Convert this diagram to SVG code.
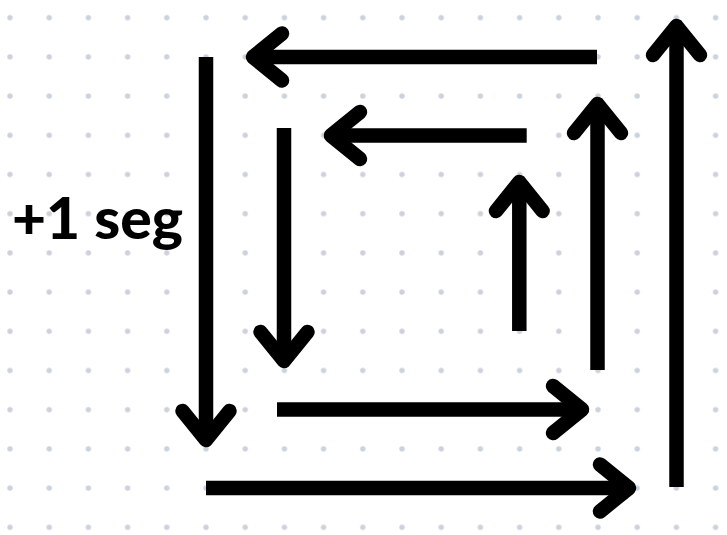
<svg xmlns="http://www.w3.org/2000/svg" width="727" height="535" viewBox="0 0 727 535">
  <style>
    .shaft { stroke: #000; stroke-width: 14.5; stroke-linecap: butt; fill: none; }
    .head { stroke: #000; stroke-width: 14.5; stroke-linecap: round; stroke-linejoin: round; fill: none; }
    .label { font-family: "Lato", "Liberation Sans", sans-serif; font-weight: 900; font-size: 58px; fill: #000; }
  </style>
  <defs>
    <pattern id="dots" patternUnits="userSpaceOnUse" x="-9.6" y="-1.9" width="39.2" height="39.2">
      <circle cx="19.6" cy="19.6" r="2.7" fill="#cdd1dc"/>
    </pattern>
  </defs>
  <rect width="727" height="535" fill="#ffffff"/>
  <rect width="727" height="535" fill="url(#dots)"/>

  <g id="label">
    <text class="label" x="12" y="239" textLength="171" lengthAdjust="spacingAndGlyphs">+1 seg</text>
  </g>

  <g id="connectors">
    <g id="arrow-outer-down">
      <line class="shaft" x1="206" y1="57" x2="206" y2="440"/>
      <polyline class="head" points="182.5,411 206,440 229.5,411"/>
    </g>
    <g id="arrow-outer-right">
      <line class="shaft" x1="206" y1="488" x2="629" y2="488"/>
      <polyline class="head" points="600,464.5 629,488 600,511.5"/>
    </g>
    <g id="arrow-outer-up">
      <line class="shaft" x1="676.5" y1="487" x2="676.5" y2="26"/>
      <polyline class="head" points="653,55 676.5,26 700,55"/>
    </g>
    <g id="arrow-outer-left">
      <line class="shaft" x1="597" y1="57" x2="253" y2="57"/>
      <polyline class="head" points="282,33.5 253,57 282,80.5"/>
    </g>
    <g id="arrow-inner-down">
      <line class="shaft" x1="284" y1="128" x2="284" y2="361"/>
      <polyline class="head" points="260.5,332 284,361 307.5,332"/>
    </g>
    <g id="arrow-inner-right">
      <line class="shaft" x1="277" y1="409.5" x2="582" y2="409.5"/>
      <polyline class="head" points="553,386 582,409.5 553,433"/>
    </g>
    <g id="arrow-inner-up">
      <line class="shaft" x1="597.5" y1="370" x2="597.5" y2="104"/>
      <polyline class="head" points="574,133 597.5,104 621,133"/>
    </g>
    <g id="arrow-inner-left">
      <line class="shaft" x1="526.7" y1="135.5" x2="331" y2="135.5"/>
      <polyline class="head" points="360,112 331,135.5 360,159"/>
    </g>
    <g id="arrow-innermost-up">
      <line class="shaft" x1="519.3" y1="331" x2="519.3" y2="182"/>
      <polyline class="head" points="496,211 519.3,182 542.6,211"/>
    </g>
  </g>
</svg>
